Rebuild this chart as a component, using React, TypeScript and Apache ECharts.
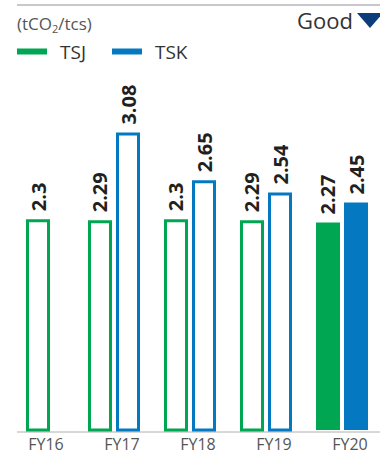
import React, { useEffect, useRef } from "react";
import * as echarts from "echarts";

const categories = ["FY16", "FY17", "FY18", "FY19", "FY20"];
const tsjValues: number[] = [2.3, 2.29, 2.3, 2.29, 2.27];
const tskValues: (number | null)[] = [null, 3.08, 2.65, 2.54, 2.45];
const filledFlags: boolean[] = [false, false, false, false, true];
const seriesNames = ["TSJ", "TSK"];
const unitParts = ["(tCO", "2", "/tcs)"];
const goodText = "Good";

const GREEN = "#00a651";
const BLUE = "#0479c2";
const FONT = "'Open Sans', 'Noto Sans', sans-serif";

export default function App() {
  const ref = useRef<HTMLDivElement>(null);
  useEffect(() => {
    const chart = echarts.init(ref.current!, null, { renderer: "svg" });
    const style = (color: string, filled: boolean) =>
      filled
        ? { color, borderWidth: 0 }
        : { color: "#ffffff", borderColor: color, borderWidth: 3 };
    const pairData = (vals: (number | null)[], color: string) =>
      vals.map((v, i) =>
        tskValues[i] == null || v == null
          ? "-"
          : { value: v, itemStyle: style(color, filledFlags[i]) }
      );
    const singleData = tsjValues.map((v, i) =>
      tskValues[i] == null ? { value: v, itemStyle: style(GREEN, filledFlags[i]) } : "-"
    );
    const label = {
      show: true,
      position: "top",
      rotate: 90,
      align: "left",
      verticalAlign: "middle",
      distance: 8,
      fontSize: 20,
      fontWeight: "bold",
      color: "#231f20",
      fontFamily: FONT,
    };
    chart.setOption({
      animation: false,
      grid: { left: 0, width: 387, top: 86, height: 344 },
      legend: {
        left: 17,
        top: 42,
        padding: 0,
        itemWidth: 30,
        itemHeight: 6,
        itemGap: 26,
        selectedMode: false,
        icon: "rect",
        textStyle: {
          color: "#333",
          fontSize: 19,
          lineHeight: 18,
          fontFamily: FONT,
          padding: [0, 0, 0, 8],
        },
        data: [
          { name: seriesNames[0], itemStyle: { color: GREEN, borderWidth: 0 } },
          { name: seriesNames[1], itemStyle: { color: BLUE, borderWidth: 0 } },
        ],
      },
      xAxis: [
        {
          type: "category",
          data: categories,
          axisLine: { show: false },
          axisTick: { show: false },
          axisLabel: {
            color: "#555",
            fontSize: 16,
            lineHeight: 14,
            fontFamily: FONT,
            margin: 7,
            padding: [0, 0, 0, 16],
          },
        },
        { type: "category", data: categories, show: false },
      ],
      yAxis: { type: "value", min: 0.4, max: 3.5, show: false },
      series: [
        {
          name: seriesNames[0],
          type: "bar",
          xAxisIndex: 0,
          barWidth: 24,
          barGap: "16.7%",
          data: pairData(tsjValues, GREEN),
          label,
        },
        {
          name: seriesNames[1],
          type: "bar",
          xAxisIndex: 0,
          barWidth: 24,
          barGap: "16.7%",
          data: pairData(tskValues, BLUE),
          label,
        },
        {
          name: seriesNames[0],
          type: "bar",
          xAxisIndex: 1,
          barWidth: 24,
          data: singleData,
          label,
        },
      ],
      graphic: [
        {
          type: "line",
          shape: { x1: 17, y1: 5, x2: 380, y2: 5 },
          style: { stroke: "#c8c8cc", lineWidth: 2 },
          silent: true,
        },
        {
          type: "line",
          shape: { x1: 17, y1: 432, x2: 380, y2: 432 },
          style: { stroke: "#b0b0b0", lineWidth: 1 },
          silent: true,
        },
        {
          type: "text",
          left: 17,
          top: 12,
          style: {
            text: `{a|${unitParts[0]}}{s|${unitParts[1]}}{a|${unitParts[2]}}`,
            rich: {
              a: { fontSize: 17, fontFamily: FONT, fill: "#555", lineHeight: 20 },
              s: { fontSize: 11, fontFamily: FONT, fill: "#555", lineHeight: 20, padding: [11, 0, 0, 0] },
            },
          },
        },
        {
          type: "text",
          left: 297,
          top: 9,
          style: { text: goodText, fontSize: 22, fontFamily: FONT, fill: "#333" },
        },
        {
          type: "polygon",
          shape: { points: [[357, 13], [383, 13], [370, 28]] },
          style: { fill: "#0c3d7a" },
        },
      ],
    });
    return () => chart.dispose();
  }, []);
  return (
    <div
      ref={ref}
      style={{ position: "absolute", left: 0, top: 0, width: 380, height: 455 }}
    />
  );
}
